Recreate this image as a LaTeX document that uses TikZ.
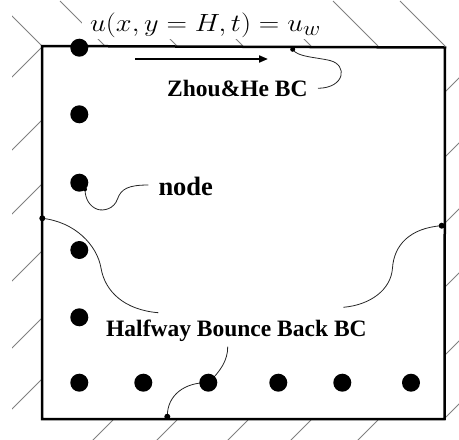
\documentclass[tikz,border=0pt]{standalone}
\usepackage{fontspec}
\setmainfont{Liberation Serif}
\usepackage{graphicx}
\usetikzlibrary{arrows.meta,backgrounds}

\begin{document}
\begin{tikzpicture}[x=1pt,y=-1pt,
  wall/.style={line width=2.5pt, line join=miter},
  hatch/.style={black!50, line width=0.8pt},
  bigdot/.style={circle, fill=black, inner sep=0pt, minimum size=18pt},
  tinydot/.style={circle, fill=black, inner sep=0pt, minimum size=6pt},
  lead/.style={black!85, line width=0.8pt},
  txt/.style={font=\fontsize{23.5}{28}\selectfont\bfseries, inner sep=0pt, anchor=base west},
]
\useasboundingbox (0,0) rectangle (459,440);

% wall hatching
\begin{scope}
  \clip (12,0) rectangle (459,440);
  \foreach \x in {42,105,177,243,311,378,445} \draw[hatch] (\x,46) -- ++(-45,-45);
  \foreach \y in {47,120,184,251,318,379} \draw[hatch] (42,\y) -- ++(-45,45);
  \foreach \y in {92,157,223,287,355,418} \draw[hatch] (445,\y) -- ++(45,-45);
  \foreach \x in {113,177,248,311,378} \draw[hatch] (\x,420) -- ++(-45,45);
\end{scope}

% clear area behind the lid condition
\fill[white] (82,0) rectangle (330,38.5);

% cavity
\draw[wall] (42,46) -- (445,47.5) -- (444.5,419) -- (42,419) -- cycle;

% moving lid
\node[anchor=base, inner sep=0pt, font=\fontsize{24.88}{30}\selectfont] (lid) at (205.5,31.5)
  {\scalebox{1.14}[1]{$u(x,y=H,t)=u_w$}};
\coordinate (a0) at (135,59);
\coordinate (a1) at (268,59);
\draw[line width=2pt, -{Triangle[length=9pt,width=7pt]}] (a0) -- (a1);

% lattice nodes
\foreach [count=\i] \y in {47.7,114.3,182.7,250,317.3,382.7}
  \node[bigdot] (l\i) at (79.3,\y) {};
\foreach [count=\i] \x in {143.3,208.3,278.3,342.3,411}
  \node[bigdot] (b\i) at (\x,382.7) {};

% boundary points
\node[tinydot, minimum size=5pt] (zt) at (292.7,49.3) {};
\node[tinydot] (hl) at (42.3,218.3) {};
\node[tinydot] (hr) at (441.7,225.7) {};
\node[tinydot] (hb) at (167.3,416.7) {};
\node[tinydot, minimum size=4pt] (nd) at (85,189.3) {};

% labels
\node[txt] (zh) at (167,96) {Zhou\&He BC};
\node[txt, font=\fontsize{26.5}{30}\selectfont\bfseries] (nl) at (158.3,195.7) {node};
\node[txt] (hw) at (106,336.7) {Halfway Bounce Back BC};

% leader ends
\coordinate (zhEnd) at (318,88.3);
\coordinate (ndEnd) at (148.3,185);
\coordinate (hwL) at (158.3,312.7);
\coordinate (hwR) at (343.3,307.3);
\coordinate (hwB) at (227.7,346.7);

\begin{pgfonlayer}{background}
  \draw[lead] (zt.center) .. controls (297,57) and (315,57) .. (330,60.5)
                          .. controls (348,65) and (345,88) .. (zhEnd);
  \draw[lead] (ndEnd) .. controls (128,185) and (121,189) .. (117.5,199)
                      .. controls (114,209) and (104,211) .. (98,209.5)
                      .. controls (90,207) and (85,199) .. (nd.center);
  \draw[lead] (hl.center) .. controls (75,222) and (97,245) .. (101,268)
                          .. controls (105,292) and (125,310) .. (hwL);
  \draw[lead] (hr.center) .. controls (410,228) and (394,245) .. (392.5,268)
                          .. controls (391,290) and (370,305) .. (hwR);
  \draw[lead] (hb.center) .. controls (167,395) and (185,382) .. (b2.center)
                          .. controls (220,372) and (228,360) .. (hwB);
\end{pgfonlayer}
\end{tikzpicture}
\end{document}
